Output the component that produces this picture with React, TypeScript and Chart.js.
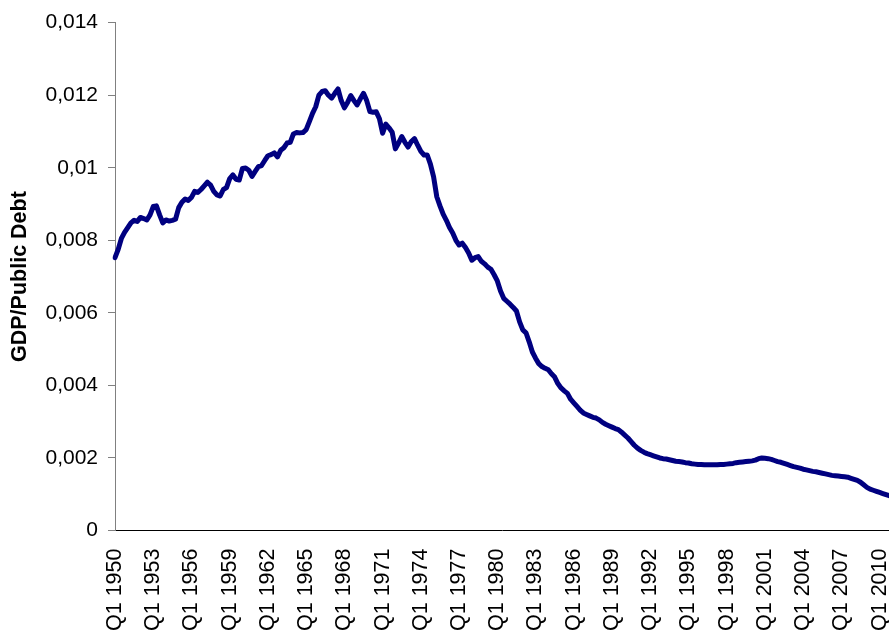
import { useEffect, useRef } from "react";
import { Chart, registerables } from "chart.js";

Chart.register(...registerables);

// GDP / Public Debt, quarterly, Q1 1950 – Q4 2010
const values1950s = [
  0.00752, 0.00775, 0.00805, 0.00822, 0.00835, 0.00848, 0.00855, 0.00852, 0.00863, 0.0086,
  0.00856, 0.0087, 0.00893, 0.00895, 0.0087, 0.00848, 0.00856, 0.00853, 0.00855, 0.00858,
  0.0089, 0.00905, 0.00914, 0.0091, 0.00918, 0.00935, 0.00932, 0.0094, 0.0095, 0.0096,
  0.00952, 0.00935, 0.00925, 0.00922, 0.0094, 0.00945, 0.0097, 0.0098, 0.00968, 0.00966,
];
const values1960s = [
  0.00998, 0.00999, 0.00993, 0.00976, 0.0099, 0.01003, 0.01006, 0.0102, 0.01033, 0.01036,
  0.01041, 0.0103, 0.01048, 0.01055, 0.01068, 0.0107, 0.01093, 0.01097, 0.01096, 0.01097,
  0.01105, 0.01127, 0.0115, 0.01168, 0.012, 0.0121, 0.01212, 0.012, 0.01192, 0.01205,
  0.01217, 0.01185, 0.01165, 0.0118, 0.01199, 0.01185, 0.01173, 0.0119, 0.01205, 0.01185,
];
const values1970s = [
  0.01155, 0.01153, 0.01154, 0.01135, 0.01095, 0.0112, 0.0111, 0.01098, 0.01052, 0.01068,
  0.01086, 0.0107, 0.01057, 0.01072, 0.0108, 0.01062, 0.01045, 0.01035, 0.01035, 0.0101,
  0.00975, 0.0092, 0.00895, 0.00872, 0.00855, 0.00835, 0.0082, 0.008, 0.00787, 0.00792,
  0.0078, 0.00765, 0.00745, 0.00752, 0.00755, 0.00742, 0.00735, 0.00726, 0.0072, 0.00705,
];
const values1980s = [
  0.00688, 0.0066, 0.0064, 0.00632, 0.00624, 0.00615, 0.00605, 0.00575, 0.00553, 0.00545,
  0.0052, 0.00492, 0.00475, 0.0046, 0.00452, 0.00447, 0.00443, 0.00432, 0.00423, 0.00405,
  0.00393, 0.00385, 0.00378, 0.00362, 0.00352, 0.00342, 0.00332, 0.00324, 0.0032, 0.00316,
  0.00312, 0.0031, 0.00305, 0.00298, 0.00293, 0.00289, 0.00285, 0.00281, 0.00278, 0.00271,
];
const values1990s = [
  0.00263, 0.00255, 0.00245, 0.00235, 0.00227, 0.00221, 0.00216, 0.00212, 0.00209, 0.00206,
  0.00203, 0.002, 0.00198, 0.00197, 0.00195, 0.00193, 0.00191, 0.0019, 0.00189, 0.00187,
  0.00186, 0.00184, 0.00183, 0.00182, 0.00182, 0.00181, 0.00181, 0.00181, 0.00181, 0.00181,
  0.00182, 0.00182, 0.00183, 0.00184, 0.00185, 0.00187, 0.00188, 0.00189, 0.0019, 0.00191,
];
const values2000s = [
  0.00192, 0.00194, 0.00198, 0.002, 0.00199, 0.00198, 0.00196, 0.00193, 0.0019, 0.00188,
  0.00185, 0.00182, 0.00179, 0.00176, 0.00174, 0.00172, 0.00169, 0.00167, 0.00165, 0.00163,
  0.00162, 0.0016, 0.00158, 0.00156, 0.00154, 0.00152, 0.00151, 0.0015, 0.00149, 0.00148,
  0.00147, 0.00144, 0.00141, 0.00138, 0.00133, 0.00126, 0.00119, 0.00114, 0.00111, 0.00108,
];
const values2010 = [0.00105, 0.00102, 0.00099, 0.00096];

const seriesValues = [
  ...values1950s,
  ...values1960s,
  ...values1970s,
  ...values1980s,
  ...values1990s,
  ...values2000s,
  ...values2010,
];

const quarterNames = ["Q1", "Q2", "Q3", "Q4"];
const firstYear = 1950;
const lastYear = 2010;
const categories: string[] = [];
for (let y = firstYear; y <= lastYear; y++) {
  for (const q of quarterNames) categories.push(`${q} ${y}`);
}
const labelEvery = 12; // a label every 3 years

const yMin = 0;
const yMax = 0.014;
const yStep = 0.002;
const yTitle = "GDP/Public Debt";

const FONT = "'Liberation Sans', Arial, Helvetica, sans-serif";

export default function App() {
  const ref = useRef<HTMLCanvasElement | null>(null);

  useEffect(() => {
    if (!ref.current) return;
    const chart = new Chart(ref.current, {
      type: "line",
      data: {
        labels: categories,
        datasets: [
          {
            data: seriesValues,
            borderColor: "#000080",
            backgroundColor: "#000080",
            borderWidth: 5,
            pointRadius: 0,
            pointHoverRadius: 0,
            tension: 0,
            fill: false,
            borderJoinStyle: "round",
            borderCapStyle: "round",
          },
        ],
      },
      options: {
        animation: false,
        responsive: false,
        events: [],
        layout: { padding: { top: 21, left: 0, right: 0, bottom: 0 } },
        plugins: {
          legend: { display: false },
          tooltip: { enabled: false },
        },
        scales: {
          x: {
            type: "category",
            offset: false,
            grid: { display: false, drawTicks: false },
            border: { display: true, color: "#000000", width: 1 },
            ticks: {
              autoSkip: false,
              minRotation: 90,
              maxRotation: 90,
              padding: 18,
              color: "#000000",
              font: { family: FONT, size: 21.5 },
              callback: (_v: any, i: number) =>
                i % labelEvery === 0 ? categories[i] : "",
            },
          },
          y: {
            min: yMin,
            max: yMax,
            afterFit: (scale: any) => {
              scale.width = 115;
            },
            grid: {
              display: true,
              drawOnChartArea: false,
              drawTicks: true,
              tickLength: 7,
              color: "#808080",
            },
            border: { display: true, color: "#808080", width: 1 },
            ticks: {
              stepSize: yStep,
              padding: 10,
              color: "#000000",
              font: { family: FONT, size: 21 },
              callback: (v: any) =>
                String(Number(Number(v).toFixed(3))).replace(".", ","),
            },
            title: {
              display: true,
              text: yTitle,
              color: "#000000",
              font: { family: FONT, size: 21.5, weight: "bold" },
              padding: { top: 7, bottom: 4 },
            },
          },
        },
      },
    });
    return () => chart.destroy();
  }, []);

  return (
    <div
      style={{
        position: "fixed",
        left: 0,
        top: 0,
        width: 889,
        height: 631,
        overflow: "hidden",
        background: "#ffffff",
      }}
    >
      <canvas ref={ref} width={933} height={649} style={{ display: "block" }} />
    </div>
  );
}
